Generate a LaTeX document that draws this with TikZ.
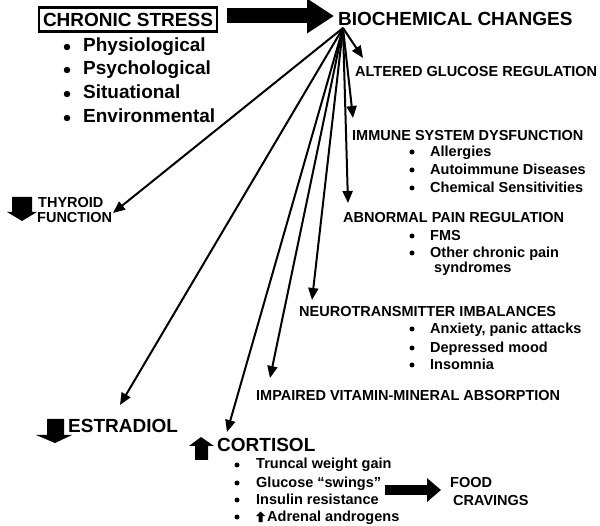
\documentclass[tikz,border=0pt]{standalone}
\usepackage{fontspec}
\setmainfont{Liberation Sans}
\usetikzlibrary{arrows.meta}
\begin{document}
\begin{tikzpicture}[x=1pt,y=-1pt,
  big/.style={font=\bfseries\fontsize{19}{19}\selectfont, anchor=base west, inner sep=0pt},
  med/.style={font=\bfseries\fontsize{14.5}{14.5}\selectfont, anchor=base west, inner sep=0pt},
  bigdot/.style={circle, fill=black, inner sep=0pt, minimum size=6.5pt},
  smalldot/.style={circle, fill=black, inner sep=0pt, minimum size=5pt},
  fan/.style={line width=2pt, -{Triangle[length=12pt,width=10pt]}},
  blockarrow/.style={fill=black}]
\useasboundingbox (0,0) rectangle (600,526);

% top row
\node[draw, line width=2.5pt, minimum width=178pt, minimum height=24pt, inner sep=0pt,
      font=\bfseries\fontsize{19}{19}\selectfont] (cs) at (128,19.5) {CHRONIC STRESS};
\node[big] (bc) at (338,26) {BIOCHEMICAL CHANGES};
\coordinate (bs) at (227,16);
\coordinate (be) at (334,16);
\draw[line width=15pt, -{Triangle[length=27pt,width=33pt]}] (bs) -- (be);

% stress bullets
\node[bigdot] (b1) at (67,47) {};  \node[big] (p1) at (83,52) {Physiological};
\node[bigdot] (b2) at (67,70) {};  \node[big] (p2) at (83,75) {Psychological};
\node[bigdot] (b3) at (67,94) {};  \node[big] (p3) at (83,99) {Situational};
\node[bigdot] (b4) at (67,118) {}; \node[big] (p4) at (83,123) {Environmental};

% right column
\node[med] (gl) at (355,77) {ALTERED GLUCOSE REGULATION};

\node[med] (im) at (352,141) {IMMUNE SYSTEM DYSFUNCTION};
\node[smalldot] (i1d) at (412,152) {}; \node[med] (i1) at (430,157) {Allergies};
\node[smalldot] (i2d) at (412,170) {}; \node[med] (i2) at (430,175) {Autoimmune Diseases};
\node[smalldot] (i3d) at (412,188) {}; \node[med] (i3) at (430,193) {Chemical Sensitivities};

\node[med] (pa) at (343,223) {ABNORMAL PAIN REGULATION};
\node[smalldot] (a1d) at (412,236) {}; \node[med] (a1) at (430,241) {FMS};
\node[smalldot] (a2d) at (412,253) {}; \node[med] (a2) at (430,258) {Other chronic pain};
\node[med] (a3) at (434,273) {syndromes};

\node[med] (ne) at (299,317) {NEUROTRANSMITTER IMBALANCES};
\node[smalldot] (n1d) at (412,329) {}; \node[med] (n1) at (430,334) {Anxiety, panic attacks};
\node[smalldot] (n2d) at (412,348) {}; \node[med] (n2) at (430,353) {Depressed mood};
\node[smalldot] (n3d) at (412,365) {}; \node[med] (n3) at (430,370) {Insomnia};

\node[med] (vi) at (256,401) {IMPAIRED VITAMIN-MINERAL ABSORPTION};

% thyroid
\fill[blockarrow] (12,197) -- (32,197) -- (32,212) -- (37,212) -- (22,221) -- (7,212) -- (12,212) -- cycle;
\node[med] (th1) at (38,208) {THYROID};
\node[med] (th2) at (37,223) {FUNCTION};

% estradiol
\fill[blockarrow] (47,419) -- (64,419) -- (64,435) -- (72,435) -- (55,443) -- (36,435) -- (47,435) -- cycle;
\node[big] (es) at (68,433) {ESTRADIOL};

% cortisol
\fill[blockarrow] (195,460) -- (208,460) -- (208,446) -- (214,446) -- (201,437) -- (189,446) -- (195,446) -- cycle;
\node[big] (co) at (217,452) {CORTISOL};
\node[smalldot] (c1d) at (237,465) {}; \node[med] (c1) at (256,469) {Truncal weight gain};
\node[smalldot] (c2d) at (237,483) {}; \node[med] (c2) at (256,487) {Glucose ``swings''};
\node[smalldot] (c3d) at (237,500) {}; \node[med] (c3) at (256,504) {Insulin resistance};
\node[smalldot] (c4d) at (237,517) {};
\fill[blockarrow] (258.5,522) -- (262.5,522) -- (262.5,516) -- (265,516) -- (260.5,511.5) -- (256,516) -- (258.5,516) -- cycle;
\node[med] (c4) at (267,521) {Adrenal androgens};

% food cravings
\node[med] (fo1) at (450,487) {FOOD};
\node[med] (fo2) at (453,505) {CRAVINGS};
\coordinate (fs) at (385,490);
\coordinate (fe) at (441,490);
\draw[line width=10pt, -{Triangle[length=14pt,width=23pt]}] (fs) -- (fe);

% fan of arrows
\coordinate (o) at (343,28);
\coordinate (tgl) at (363,58);
\coordinate (tim) at (353,118);
\coordinate (tpa) at (348,203);
\coordinate (tne) at (312,300);
\coordinate (tvi) at (270,378);
\coordinate (tco) at (227,432);
\coordinate (tes) at (120,405);
\coordinate (tth) at (113,213);
\draw[fan] (o) -- (tgl);
\draw[fan] (o) -- (tim);
\draw[fan] (o) -- (tpa);
\draw[fan] (o) -- (tne);
\draw[fan] (o) -- (tvi);
\draw[fan] (o) -- (tco);
\draw[fan] (o) -- (tes);
\draw[fan] (o) -- (tth);
\end{tikzpicture}
\end{document}
